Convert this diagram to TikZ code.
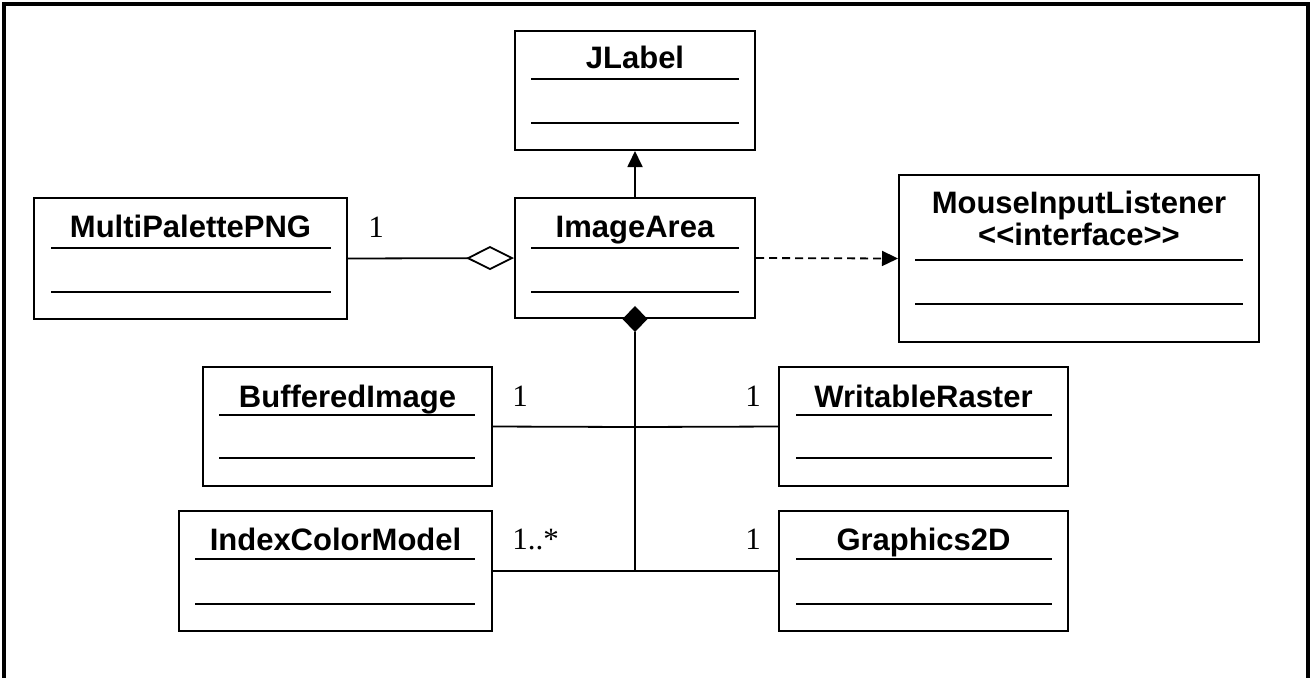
\documentclass[tikz,border=0pt]{standalone}
\usepackage{fontspec}
\setmainfont{Liberation Serif}
\setsansfont{Liberation Sans}
\usetikzlibrary{arrows.meta,shapes.geometric,fit}
\begin{document}
\begin{tikzpicture}[x=0.5pt,y=-0.5pt,
  cls/.style={draw, line width=1pt, inner sep=0pt},
  sep/.style={line width=1.4pt},
  ttl/.style={font=\sffamily\bfseries\fontsize{15.5}{18}\selectfont, anchor=base, inner sep=0pt},
  mult/.style={font=\fontsize{15.5}{18}\selectfont, anchor=base west, inner sep=0pt},
  conn/.style={line width=0.9pt},
  frame/.style={line width=2.3pt, line join=miter},
  solidtip/.style={-{Triangle[length=8pt,width=7.5pt]}},
  aggtip/.style={-{Diamond[open,length=24pt,width=12pt]}}]

\useasboundingbox (0,0) rectangle (1312,677);

% outer frame (open at the bottom)
\draw[frame] (4,690) -- (4,4) -- (1308,4) -- (1308,690);

% ---- classes ----
\node[cls, fit={(515,31) (755,150)}] (jlabel) {};
\node[ttl] (jlabel-name) at (635,68) {JLabel};
\draw[sep] (531,79) -- (739,79) (531,123) -- (739,123);

\node[cls, fit={(515,198) (755,318)}] (imagearea) {};
\node[ttl] (imagearea-name) at (635,237) {ImageArea};
\draw[sep] (531,248) -- (739,248) (531,292) -- (739,292);

\node[cls, fit={(34,198) (347,319)}] (multi) {};
\node[ttl] (multi-name) at (190.5,237) {MultiPalettePNG};
\draw[sep] (51,248) -- (331,248) (51,292) -- (331,292);

\node[cls, fit={(899,175) (1259,342)}] (mouse) {};
\node[ttl] (mouse-name) at (1079,213) {MouseInputListener};
\node[ttl] (mouse-stereo) at (1079,245) {<\kern0pt<interface>\kern0pt>};
\draw[sep] (915,260) -- (1243,260) (915,304) -- (1243,304);

\node[cls, fit={(203,367) (492,486)}] (buffered) {};
\node[ttl] (buffered-name) at (347.5,407) {BufferedImage};
\draw[sep] (219,415) -- (475,415) (219,458) -- (475,458);

\node[cls, fit={(779,367) (1068,486)}] (raster) {};
\node[ttl] (raster-name) at (923.5,407) {WritableRaster};
\draw[sep] (796,415) -- (1052,415) (796,458) -- (1052,458);

\node[cls, fit={(179,511) (492,631)}] (icm) {};
\node[ttl] (icm-name) at (335.5,550) {IndexColorModel};
\draw[sep] (195,559) -- (475,559) (195,604) -- (475,604);

\node[cls, fit={(779,511) (1068,631)}] (g2d) {};
\node[ttl] (g2d-name) at (923.5,550) {Graphics2D};
\draw[sep] (796,559) -- (1052,559) (796,604) -- (1052,604);

% ---- relations ----
% generalization
\draw[conn, solidtip] (imagearea.north) -- (jlabel.south);
% aggregation
\draw[conn, aggtip] (multi.east) -- (imagearea.west);
% dependency
\draw[conn, solidtip, dash pattern=on 4pt off 2.5pt] (imagearea.east) -- (mouse.east -| mouse.west);

% composition: diamond on the lower edge and a trunk with branches
\node[diamond, draw, fill, line width=0.5pt, inner sep=0pt,
      minimum width=12pt, minimum height=12.5pt] (comp) at (imagearea.south) {};
\coordinate (j1) at (635,427);
\coordinate (j2) at (635,571);
\draw[line width=1.4pt] (comp.south) -- (j2);
\draw[conn] (buffered.east) -- (j1);
\draw[conn] (raster.west) -- (j1);
\draw[conn] (icm.east) -- (j2);
\draw[conn] (g2d.west) -- (j2);

% multiplicities
\node[mult] (m-multi) at (368,237) {1};
\node[mult] (m-buffered) at (512,406) {1};
\node[mult] (m-raster) at (745,406) {1};
\node[mult] (m-icm) at (512,549) {1..*};
\node[mult] (m-g2d) at (745,549) {1};
\end{tikzpicture}
\end{document}
